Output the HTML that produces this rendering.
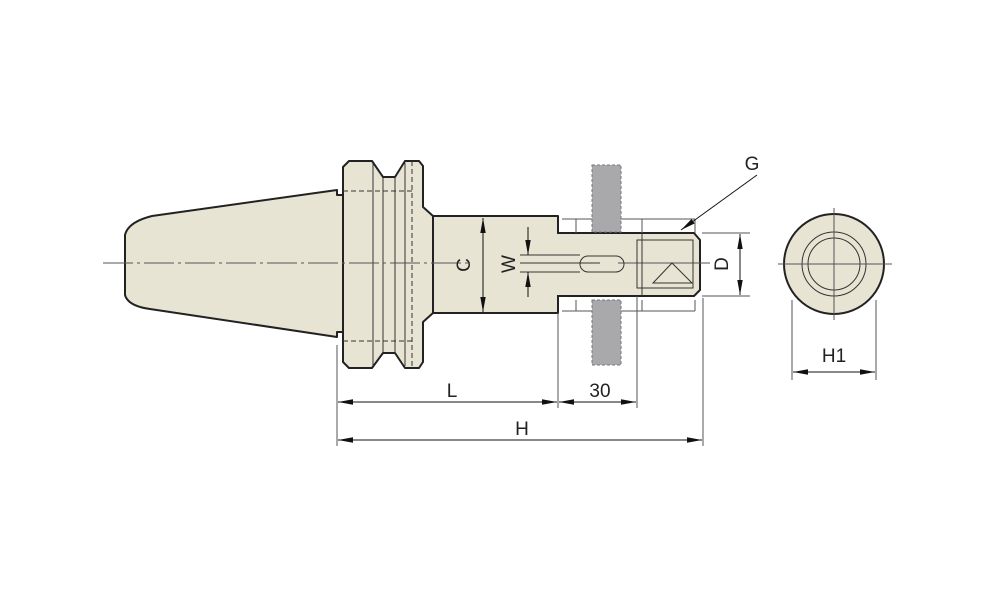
<!DOCTYPE html>
<html><head><meta charset="utf-8"><style>
html,body{margin:0;padding:0;background:#fff;}
svg{display:block;}
text{font-family:"Liberation Sans",Arial,sans-serif;fill:#222;}
</style></head><body>
<svg width="1000" height="611" viewBox="0 0 1000 611" xmlns="http://www.w3.org/2000/svg">
<defs>
<marker id="a" viewBox="0 0 10 10" refX="10" refY="5" markerWidth="15" markerHeight="6" preserveAspectRatio="none" orient="auto-start-reverse" markerUnits="userSpaceOnUse"><path d="M0,0.5 L10,5 L0,9.5 z" fill="#111"/></marker>
</defs>
<g fill="#e8e4d3" stroke="#222" stroke-width="2" stroke-linejoin="round">
<!-- taper -->
<path d="M337,190 L152,216 Q128,222 125,235 L125,295 Q128,306 150,309 L337,337 L337,332 L343,332 L343,195 L337,195 Z"/>
<!-- flange -->
<path d="M343,167 L349,161 L372,161 L383,177 L395,177 L405,161 L419,161 L423,166 L423,207 L433,216 L433,313 L423,322 L423,362 L419,368 L405,368 L395,353 L383,353 L372,368 L349,368 L343,362 Z"/>
<!-- shank -->
<path d="M556,233 L694,233 L700,240 L700,290 L694,296 L556,296 Z"/>
<!-- shaft -->
<rect x="433" y="216" width="125" height="97"/>
</g>
<rect x="556" y="234" width="4" height="61" fill="#e8e4d3"/>
<g stroke="#333" stroke-width="1" fill="none">
<line x1="373" y1="163" x2="373" y2="366"/><line x1="383" y1="178" x2="383" y2="352"/>
<line x1="395" y1="178" x2="395" y2="352"/><line x1="405" y1="163" x2="405" y2="366"/>
<line x1="343" y1="191" x2="412" y2="191" stroke-dasharray="5,3"/>
<line x1="343" y1="341" x2="412" y2="341" stroke-dasharray="5,3"/>
<line x1="412" y1="161" x2="412" y2="368" stroke-dasharray="5,3"/>
<!-- centerline -->
<line x1="103" y1="263" x2="470" y2="263" stroke="#555" stroke-dasharray="30,4,3,4"/>
<line x1="618" y1="263" x2="710" y2="263" stroke="#555"/>
<!-- slot -->
<rect x="580" y="256" width="44" height="16" rx="8"/>
<line x1="520" y1="255" x2="580" y2="255"/><line x1="520" y1="272" x2="580" y2="272"/>
<line x1="520" y1="263" x2="600" y2="263"/>
<!-- square / triangle -->
<rect x="637" y="240" width="56" height="48"/>
<line x1="642" y1="233" x2="642" y2="296"/>
<path d="M653,283 L672,263 L692,283 Z"/>
<!-- brackets -->
<path d="M562,219 L695,219 M576,219 L576,233 M642,219 L642,233 M695,219 L695,233" stroke="#555"/>
<path d="M562,311 L695,311 M576,300 L576,311 M642,300 L642,311 M695,300 L695,311" stroke="#555"/>
<!-- extension lines -->
<line x1="337" y1="345" x2="337" y2="446" stroke="#555"/>
<line x1="558" y1="313" x2="558" y2="408" stroke="#555"/>
<line x1="637" y1="296" x2="637" y2="408" stroke="#555"/>
<line x1="703" y1="298" x2="703" y2="446" stroke="#555"/>
<line x1="702" y1="233" x2="750" y2="233" stroke="#555"/>
<line x1="702" y1="296" x2="750" y2="296" stroke="#555"/>
</g>
<!-- gray blocks -->
<g fill="#a9a9ab" stroke="#777" stroke-width="1" stroke-dasharray="3,2">
<rect x="592" y="165" width="29" height="67"/>
<rect x="592" y="300" width="29" height="65"/>
</g>
<!-- dimensions -->
<g stroke="#111" stroke-width="1">
<line x1="483" y1="218" x2="483" y2="312" marker-start="url(#a)" marker-end="url(#a)"/>
<line x1="528" y1="227" x2="528" y2="255" marker-end="url(#a)"/>
<line x1="528" y1="297" x2="528" y2="272" marker-end="url(#a)"/>
<line x1="740" y1="234" x2="740" y2="295" marker-start="url(#a)" marker-end="url(#a)"/>
<line x1="338" y1="402" x2="557" y2="402" marker-start="url(#a)" marker-end="url(#a)"/>
<line x1="559" y1="402" x2="636" y2="402" marker-start="url(#a)" marker-end="url(#a)"/>
<line x1="338" y1="440" x2="702" y2="440" marker-start="url(#a)" marker-end="url(#a)"/>
<line x1="757" y1="175" x2="681" y2="230" marker-end="url(#a)"/>
<line x1="793" y1="372" x2="875" y2="372" marker-start="url(#a)" marker-end="url(#a)"/>
</g>
<!-- end view -->
<circle cx="834" cy="264" r="50" fill="#e8e4d3" stroke="#222" stroke-width="2"/>
<circle cx="834" cy="264" r="32" fill="none" stroke="#333" stroke-width="1"/>
<circle cx="834" cy="264" r="26" fill="none" stroke="#333" stroke-width="1"/>
<g stroke="#555" stroke-width="1">
<line x1="778" y1="264" x2="892" y2="264"/><line x1="834" y1="208" x2="834" y2="320"/>
<line x1="792" y1="300" x2="792" y2="380"/><line x1="876" y1="300" x2="876" y2="380"/>
</g>
<g font-size="19">
<text x="452" y="397" text-anchor="middle">L</text>
<text x="600" y="397" text-anchor="middle">30</text>
<text x="522" y="435" text-anchor="middle">H</text>
<text x="752" y="170" text-anchor="middle">G</text>
<text x="834" y="362" text-anchor="middle">H1</text>
<text transform="translate(465,265) rotate(-90)" text-anchor="middle" dominant-baseline="middle">C</text>
<text transform="translate(510,264) rotate(-90)" text-anchor="middle" dominant-baseline="middle">W</text>
<text transform="translate(723,264) rotate(-90)" text-anchor="middle" dominant-baseline="middle">D</text>
</g>
</svg>
</body></html>
